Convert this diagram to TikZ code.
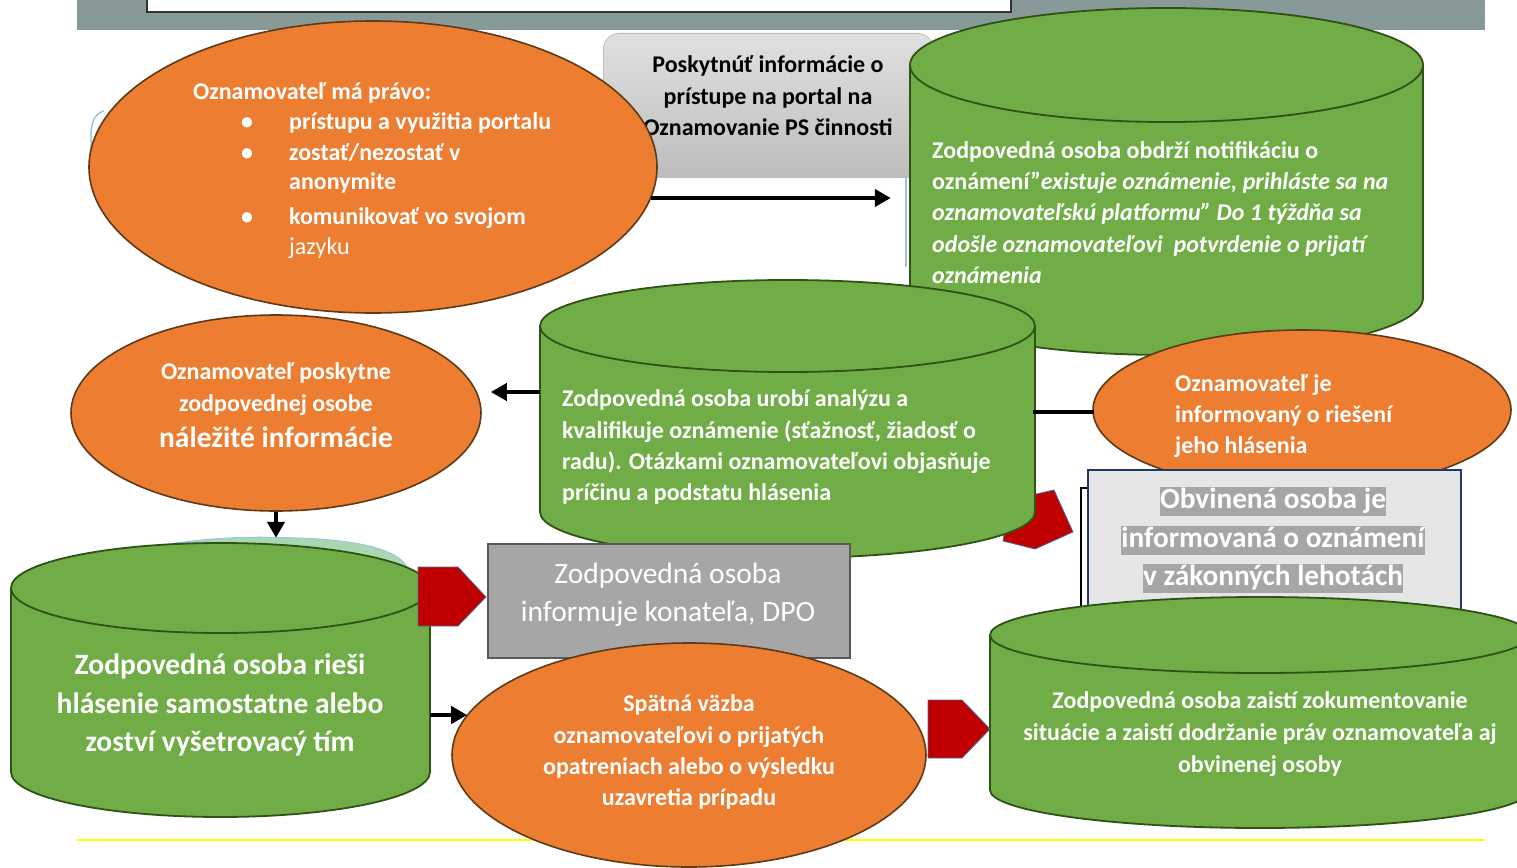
\documentclass[tikz,border=0pt]{standalone}
\usepackage{fontspec}
\setmainfont{Carlito}
\usetikzlibrary{shapes.geometric,arrows.meta,calc}
\definecolor{orng}{HTML}{ED7D31}
\definecolor{orngb}{HTML}{5E3A17}
\definecolor{grn}{HTML}{70AD47}
\definecolor{grnb}{HTML}{2F5217}
\definecolor{bandc}{HTML}{889A98}
\definecolor{redar}{HTML}{C00000}
\definecolor{redb}{HTML}{41719C}
\definecolor{gbox}{HTML}{A6A6A6}
\definecolor{gboxb}{HTML}{595959}
\definecolor{lbox}{HTML}{E7E6E6}
\definecolor{navy}{HTML}{203864}
\definecolor{ghostc}{HTML}{9DC3E6}
\definecolor{palegrn}{HTML}{A9D8B0}
\definecolor{yel}{HTML}{FFFF00}
\newcommand\myfs[1]{\fontsize{#1}{#1}\selectfont}
\tikzset{
  oval/.style={ellipse, draw=orngb, line width=1.6pt, fill=orng, inner sep=0pt},
  cylbody/.style={fill=grn, draw=grnb, line width=1.8pt},
  cylrim/.style={draw=grnb, line width=1.8pt},
  txt/.style={inner sep=0pt, font=\bfseries\myfs{24}, text=white},
  tl/.style={txt, anchor=base west},
  tc/.style={txt, anchor=base},
  big/.style={font=\bfseries\myfs{29.5}},
  arr/.style={line width=4pt, -{Triangle[length=16pt,width=17pt]}},
  thickbar/.style={line width=4pt},
  blockarr/.style={fill=redar, draw=redb, line width=0.8pt},
  ghost/.style={draw=ghostc, line width=1.5pt},
  hl/.style={tc, fill=gbox, text height=21pt, text depth=8pt, font=\bfseries\myfs{29.3}},
}
\newcommand\gcyl[6]{%
  \pgfmathsetmacro\myrx{(#3-#2)/2}%
  \pgfmathsetmacro\mycx{(#3+#2)/2}%
  \pgfmathsetmacro\mycy{(#4+#5)/2}%
  \pgfmathsetmacro\myh{#5-#4+2*#6}%
  \pgfmathsetmacro\myw{#3-#2}%
  \path[cylbody] (#2,#4) -- (#2,#5) arc[start angle=180,end angle=0,x radius=\myrx,y radius=#6] -- (#3,#4) arc[start angle=0,end angle=-180,x radius=\myrx,y radius=#6] -- cycle;
  \draw[cylrim] (#2,#4) arc[start angle=180,end angle=0,x radius=\myrx,y radius=#6];
  \node[inner sep=0pt,minimum width=\myw pt,minimum height=\myh pt] (#1) at (\mycx,\mycy) {};
}
\begin{document}
\begin{tikzpicture}[x=1pt,y=-1pt]
\useasboundingbox (0,0) rectangle (1517,867);
\fill[white] (0,0) rectangle (1517,867);
% top band
\fill[bandc] (77,0) rectangle (1485,30);
\draw[fill=white, draw=black!80, line width=1.2pt] (147,-3) rectangle (1011,12);
% yellow rule
\draw[yel, line width=1.2pt] (77,840) -- (1485,840);
% ghost outlines
\draw[ghost] (650,177) -- (906,177) -- (906,267);
\draw[ghost] (104,111) .. controls (96,113) and (92,120) .. (91,132) -- (91,160);
% portal box
\node[draw=black!25, line width=0.8pt, rounded corners=16pt, top color=black!12, bottom color=black!26,
      minimum width=330pt, minimum height=144pt, anchor=north west, inner sep=0pt] (portal) at (603,33) {};
\node[tc, text=black] (p1) at (768,72) {Poskytnúť informácie o};
\node[tc, text=black] (p2) at (768,104) {prístupe na portal na};
\node[tc, text=black] (p3) at (768,135) {Oznamovanie PS činnosti};
% ellipse 1
\node[oval, minimum width=568pt, minimum height=292pt] (oz1) at (373,167) {};
\node[tl] (r0) at (193,99) {Oznamovateľ má právo:};
\node[tc] (b1) at (247,129) {•};
\node[tl] (r1) at (289,129) {prístupu a využitia portalu};
\node[tc] (b2) at (247,160) {•};
\node[tl] (r2) at (289,160) {zostať/nezostať v};
\node[tl] (r3) at (289,189) {anonymite};
\node[tc] (b3) at (247,224) {•};
\node[tl] (r4) at (289,224) {komunikovať vo svojom};
\node[tl, font=\mdseries\myfs{24}] (r5) at (289,254) {jazyku};
% cylinder 1
\gcyl{cyl1}{910}{1423}{65}{298}{57}
\node[tl] (c1a) at (932,158) {Zodpovedná osoba obdrží notifikáciu o};
\node[tl] (c1b) at (932,189) {oznámení”\textit{existuje oznámenie, prihláste sa na}};
\node[tl, font=\bfseries\itshape\myfs{24}] (c1c) at (932,220) {oznamovateľskú platformu” Do 1 týždňa sa};
\node[tl, font=\bfseries\itshape\myfs{24}] (c1d) at (932,252) {odošle oznamovateľovi\ \ potvrdenie o prijatí};
\node[tl, font=\bfseries\itshape\myfs{24}] (c1e) at (932,283) {oznámenia};
\draw[arr] ($(oz1.east)+(-7,31)$) -- ($(cyl1.west)+(-19,16.5)$);
% red block arrow behind cylinder 2
\path[blockarr] (1054,490) -- (1073,532) -- (1035,549) -- (1003,541) -- (1010,500) -- cycle;
% cylinder 2
\gcyl{cyl2}{540}{1035}{326}{512}{46}
\node[tl] (c2a) at (562,406) {Zodpovedná osoba urobí analýzu a};
\node[tl] (c2b) at (562,438) {kvalifikuje oznámenie (sťažnosť, žiadosť o};
\node[tl] (c2c) at (562,469) {radu). Otázkami oznamovateľovi objasňuje};
\node[tl] (c2d) at (562,500) {príčinu a podstatu hlásenia};
% ellipse 4
\node[oval, minimum width=418pt, minimum height=160pt] (oz4) at (1302,410) {};
\node[tl] (o4a) at (1175,391) {Oznamovateľ je};
\node[tl] (o4b) at (1175,422) {informovaný o riešení};
\node[tl] (o4c) at (1175,453) {jeho hlásenia};
\draw[thickbar] ($(cyl2.east)+(-2,-7)$) -- ($(oz4.west)+(2,2)$);
% accused box
\draw[draw=black, line width=1.6pt, fill=white] (1081,488) rectangle (1454,630);
\node[draw=navy, line width=2pt, fill=lbox, minimum width=373pt, minimum height=156pt, anchor=north west, inner sep=0pt] (obv) at (1087,469) {};
\node[hl] (ob1) at (1273,508) {Obvinená osoba je};
\node[hl] (ob2) at (1273,547) {informovaná o oznámení};
\node[hl] (ob3) at (1273,585) {v zákonných lehotách};
% cylinder 4
\gcyl{cyl4}{990}{1530}{635}{790}{38}
\node[tc] (c4a) at (1260,708) {Zodpovedná osoba zaistí zokumentovanie};
\node[tc] (c4b) at (1260,740) {situácie a zaistí dodržanie práv oznamovateľa aj};
\node[tc] (c4c) at (1260,772) {obvinenej osoby};
% ellipse 2
\node[oval, minimum width=410pt, minimum height=196pt] (oz2) at (276,413) {};
\node[tc] (o2a) at (276,379) {Oznamovateľ poskytne};
\node[tc] (o2b) at (276,411) {zodpovednej osobe};
\node[tc, big] (o2c) at (276,447) {náležité informácie};
\draw[arr] ($(cyl2.west)+(0,-27)$) -- ($(oz2.east)+(9,-21)$);
% ghost sliver behind cylinder 3, then cylinder 3
\draw[fill=palegrn, draw=ghostc, line width=1pt] (145,548) .. controls (200,538) and (240,536.5) .. (280,537.5) .. controls (340,538.5) and (395,545) .. (407,567) -- (407,600) -- (145,600) -- cycle;
\gcyl{cyl3}{11}{430}{588}{772}{45}
\draw[arr] (oz2.south) -- ($(oz2.south |- cyl3.north)+(0,-5)$);
\node[tc, big] (c3a) at (220,674) {Zodpovedná osoba rieši};
\node[tc, big] (c3b) at (220,713) {hlásenie samostatne alebo};
\node[tc, big] (c3c) at (220,751) {zoství vyšetrovacý tím};
% red block arrow 1 and DPO box
\path[blockarr] (418,567) -- (458,567) -- (486,597) -- (458,626) -- (418,626) -- cycle;
\node[draw=gboxb, line width=2pt, fill=gbox, minimum width=362pt, minimum height=114pt, anchor=north west, inner sep=0pt] (dpo) at (487,543) {};
\node[tc, font=\myfs{29.5}] (d1) at (668,583) {Zodpovedná osoba};
\node[tc, font=\myfs{29.5}] (d2) at (668,621) {informuje konateľa, DPO};
% ellipse 3
\node[oval, minimum width=474pt, minimum height=224pt] (oz3) at (689,755) {};
\node[tc] (o3a) at (689,711) {Spätná väzba};
\node[tc] (o3b) at (689,743) {oznamovateľovi o prijatých};
\node[tc] (o3c) at (689,774) {opatreniach alebo o výsledku};
\node[tc] (o3d) at (689,805) {uzavretia prípadu};
\draw[arr] ($(cyl3.east)+(0,35)$) -- ($(oz3.west)+(16,-40)$);
% red block arrow 2
\path[blockarr] (928,700) -- (962,700) -- (990,729) -- (962,758) -- (928,758) -- cycle;
\end{tikzpicture}
\end{document}
